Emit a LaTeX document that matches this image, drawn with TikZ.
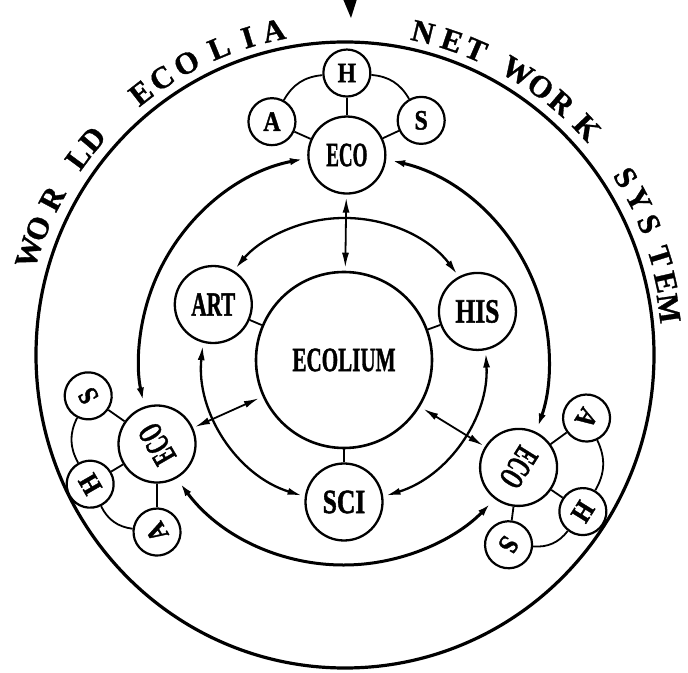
\documentclass[tikz,border=0pt]{standalone}
\usepackage{fontspec}
\setmainfont{Liberation Serif}
\newfontfamily\heavyfont{Liberation Serif}[FakeBold=1.5]
\newfontfamily\midfont{Liberation Serif}[FakeBold=1]
\usepackage{graphicx}
\usetikzlibrary{arrows.meta,calc}
\newcommand{\lab}[2][0.62]{\scalebox{#1}[1]{\fontsize{34}{34}\selectfont\heavyfont\bfseries #2}}
\newcommand{\slab}[1]{\scalebox{0.85}[1]{\fontsize{28}{28}\selectfont\heavyfont\bfseries #1}}
\tikzset{
  outerline/.style={line width=3.2pt},
  ringline/.style={line width=3pt},
  inringline/.style={line width=2.3pt},
  bignode/.style={circle,draw,line width=2.3pt,minimum size=77pt,inner sep=0pt,fill=white},
  hubnode/.style={circle,draw,line width=2.6pt,minimum size=176pt,inner sep=0pt,fill=white},
  smallnode/.style={circle,draw,line width=2.2pt,minimum size=47pt,inner sep=0pt,fill=white},
  conn/.style={line width=1.8pt},
  dbl/.style={{Latex[length=15pt,width=7pt]}-{Latex[length=15pt,width=7pt]}},
  arctext/.style={inner sep=0pt,font=\fontsize{31}{31}\selectfont\midfont\bfseries},
}
\begin{document}
\begin{tikzpicture}[x=1pt,y=1pt]
\useasboundingbox (0,0) rectangle (688,672);
\coordinate (C) at (344,312);
\coordinate (O) at (345,317);

% outer circle and top pointer
\draw[outerline] (O) ellipse [x radius=309pt, y radius=313pt];
\fill (343,673) -- (357,673) -- (351,654) -- cycle;

% text around
\foreach \a/\l/\r [count=\i] in {162/W/332,157.6/O/332,151.9/R/332,143.5/L/332,139.5/D/332,127.9/E/332,123.5/C/332,118.5/O/332,112.3/L/332,107/I/332,102.4/A/332,76.4/N/332,71.2/E/332,66.8/T/332,58.7/W/332,53.9/O/332,49.3/R/332,43.2/K/332,32.3/S/332,27.9/Y/332,23.3/S/331,17.3/T/330,12.8/E/329,8.2/M/327}
  \node[arctext,rotate=\a-90] (t\i) at ([shift={(\a:\r pt)}]O) {\l};

% central nodes
\node[hubnode] (hub) at (C) {\lab{ECOLIUM}};
\node[bignode] (art) at ([shift={(157:142pt)}]C) {\lab{ART}};
\node[bignode] (his) at ([shift={(20:142pt)}]C) {\lab[0.75]{HIS}};
\node[bignode] (sci) at ([shift={(270:142pt)}]C) {\lab[0.75]{SCI}};

% ECO nodes
\node[bignode] (ecot) at ([shift={(89.2:205pt)}]C) {\lab[0.56]{ECO}};
\node[bignode,rotate=120] (ecol) at ([shift={(204.2:205pt)}]C) {\lab[0.56]{ECO}};
\node[bignode,rotate=238] (ecor) at ([shift={(328.4:205pt)}]C) {\lab[0.56]{ECO}};

% clusters
\node[smallnode] (th) at ([shift={(90:82pt)}]ecot) {\slab{H}};
\node[smallnode] (ta) at ([shift={(156:82pt)}]ecot) {\slab{A}};
\node[smallnode] (ts) at ([shift={(25:82pt)}]ecot) {\slab{S}};

\node[smallnode,rotate=120] (ls) at ([shift={(145:84pt)}]ecol) {\slab{S}};
\node[smallnode,rotate=120] (lh) at ([shift={(211:78pt)}]ecol) {\slab{H}};
\node[smallnode,rotate=120] (la) at ([shift={(270:88pt)}]ecol) {\slab{A}};

\node[smallnode,rotate=238] (ra) at ([shift={(36:84pt)}]ecor) {\slab{A}};
\node[smallnode,rotate=238] (rh) at ([shift={(325.5:78pt)}]ecor) {\slab{H}};
\node[smallnode,rotate=238] (rs) at ([shift={(262.6:78pt)}]ecor) {\slab{S}};

\foreach \e/\a/\h/\s in {ecot/ta/th/ts, ecol/la/lh/ls, ecor/ra/rh/rs}{
  \draw[conn] (\e) -- (\a);
  \draw[conn] (\e) -- (\h);
  \draw[conn] (\e) -- (\s);
  \draw[conn] (\a) to[bend left=28] (\h);
  \draw[conn] (\h) to[bend left=28] (\s);
}

% inner ring arcs
\draw[inringline,dbl] ([shift={(37:142pt)}]C) arc[start angle=37,end angle=140,radius=142pt];
\draw[inringline,dbl] ([shift={(174:142pt)}]C) arc[start angle=174,end angle=253,radius=142pt];
\draw[inringline,dbl] ([shift={(287:142pt)}]C) arc[start angle=287,end angle=363,radius=142pt];

% ECO ring arcs
\draw[ringline,dbl] ([shift={(101:205pt)}]C) arc[start angle=101,end angle=192,radius=205pt];
\draw[ringline,dbl] ([shift={(77:205pt)}]C) arc[start angle=77,end angle=-19.5,radius=205pt];
\draw[ringline,dbl] ([shift={(216.5:205pt)}]C) arc[start angle=216.5,end angle=316,radius=205pt];

% spokes to hub
\draw[conn] (art) -- (hub);
\draw[conn] (his) -- (hub);
\draw[conn] (sci) -- (hub);
\draw[conn,dbl,shorten >=3pt,shorten <=3pt] (ecot) -- (hub);
\draw[conn,dbl,shorten >=4pt,shorten <=2pt] (ecol) -- (hub);
\draw[conn,dbl,shorten >=4pt,shorten <=2pt] (ecor) -- (hub);
\end{tikzpicture}
\end{document}
